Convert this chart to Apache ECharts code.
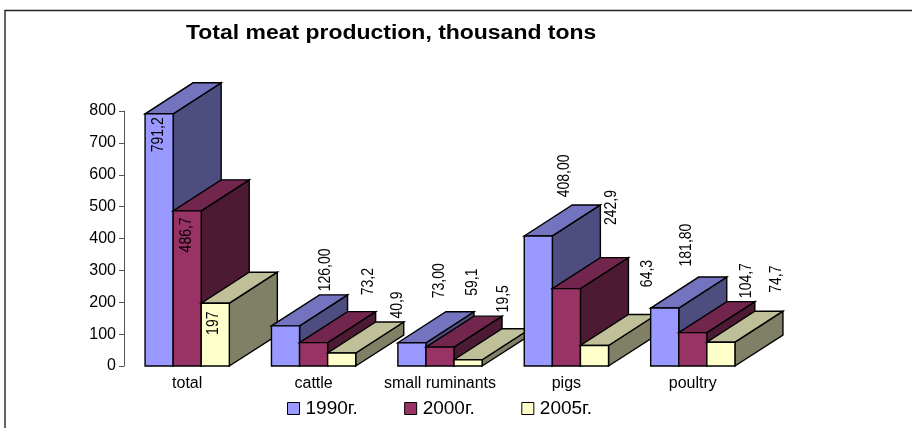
<!DOCTYPE html>
<html>
<head>
<meta charset="utf-8">
<title>Total meat production</title>
<style>html,body{margin:0;padding:0;background:#fff}#chart{width:912px;height:428px}</style>
<script src="https://cdn.jsdelivr.net/npm/echarts@6/dist/echarts.min.js"></script>
</head>
<body>
<div id="chart"></div>
<script>
// Meat production by type, thousand tons
const categories = ['total', 'cattle', 'small ruminants', 'pigs', 'poultry'];
const yearNames = ['1990г.', '2000г.', '2005г.'];
const values1990 = [791.2, 126.0, 73.0, 408.0, 181.8];
const values2000 = [486.7, 73.2, 59.1, 242.9, 104.7];
const values2005 = [197, 40.9, 19.5, 64.3, 74.7];
const labels1990 = ['791,2', '126,00', '73,00', '408,00', '181,80'];
const labels2000 = ['486,7', '73,2', '59,1', '242,9', '104,7'];
const labels2005 = ['197', '40,9', '19,5', '64,3', '74,7'];

// Hand-placed data labels: shift from the middle of a bar's top front edge
const shifts1990 = [[-0.6, 21], [40.6, -56], [28, -62], [26.5, -60], [22, -63]];
const shifts2000 = [[-0.6, 24], [55, -61], [33, -65], [45, -81], [54, -52]];
const shifts2005 = [[-1.3, 20], [56, -48], [36, -61], [53, -72], [56, -63]];

// Shades for each year: front, top and side faces of the block
const faces = [
  { front: '#9999FF', top: '#7373BF', side: '#4D4D80' },
  { front: '#993366', top: '#73264D', side: '#4D1A33' },
  { front: '#FFFFCC', top: '#BFBF99', side: '#808066' }
];
const depthX = 48, depthY = 31;
const font = 'Liberation Sans, Arial, sans-serif';

function blockSeries(name, yearIndex, values, labels, shifts) {
  return {
    name,
    type: 'custom',
    silent: true,
    itemStyle: { color: faces[yearIndex].front },
    data: values.map((v, i) => [i, v]),
    encode: { x: 0, y: 1 },
    renderItem(params, api) {
      const cat = api.value(0);
      const base = api.coord([cat, 0]);
      const top = api.coord([cat, api.value(1)]);
      const w = api.size([1, 0])[0] / 4.5;
      const x0 = base[0] - 1.5 * w + yearIndex * w;
      const x1 = x0 + w;
      const yt = top[1], yb = base[1];
      const order = cat * 10 + yearIndex;
      const edge = { stroke: '#000', lineWidth: 1.4, lineJoin: 'miter' };
      const face = (points, fill) => ({
        type: 'polygon', z2: order, shape: { points },
        style: Object.assign({ fill }, edge)
      });
      const shift = shifts[params.dataIndex];
      return {
        type: 'group',
        children: [
          face([[x1, yb], [x1 + depthX, yb - depthY], [x1 + depthX, yt - depthY], [x1, yt]], faces[yearIndex].side),
          face([[x0, yt], [x1, yt], [x1 + depthX, yt - depthY], [x0 + depthX, yt - depthY]], faces[yearIndex].top),
          face([[x0, yb], [x1, yb], [x1, yt], [x0, yt]], faces[yearIndex].front),
          {
            type: 'text', z2: 1000,
            x: (x0 + x1) / 2 + shift[0], y: yt + shift[1],
            rotation: Math.PI / 2,
            scaleY: 1.12,
            style: {
              text: labels[params.dataIndex], fill: '#000',
              font: '14px ' + font, align: 'center', verticalAlign: 'middle'
            }
          }
        ]
      };
    }
  };
}

const chart = echarts.init(document.getElementById('chart'), null, { renderer: 'canvas' });
chart.setOption({
  animation: false,
  backgroundColor: '#fff',
  grid: { left: 124, top: 111, width: 632, height: 255 },
  legend: {
    left: 287, top: 399, padding: 0,
    itemWidth: 12, itemHeight: 12, itemGap: 46.5,
    icon: 'rect',
    itemStyle: { borderColor: '#000', borderWidth: 1 },
    textStyle: { fontFamily: font, fontSize: 19, color: '#000', padding: [0, 0, 0, 1] },
    data: yearNames
  },
  xAxis: {
    type: 'category',
    data: categories,
    axisLine: { show: false },
    axisTick: { show: false },
    axisLabel: { fontFamily: font, fontSize: 16, color: '#000', margin: 10, interval: 0 }
  },
  yAxis: {
    type: 'value',
    min: 0, max: 800, interval: 100,
    splitLine: { show: false },
    axisLine: { show: true, lineStyle: { color: '#555', width: 1 } },
    axisTick: { show: true, length: 5, lineStyle: { color: '#555', width: 1 } },
    axisLabel: { fontFamily: font, fontSize: 16, color: '#000', margin: 8 }
  },
  series: [
    blockSeries(yearNames[0], 0, values1990, labels1990, shifts1990),
    blockSeries(yearNames[1], 1, values2000, labels2000, shifts2000),
    blockSeries(yearNames[2], 2, values2005, labels2005, shifts2005)
  ],
  graphic: [{
    type: 'polyline',
    silent: true,
    shape: { points: [[5, 429], [5, 10.5], [913, 10.5]] },
    style: { fill: 'none', stroke: '#222', lineWidth: 1.4 }
  }, {
    type: 'text',
    silent: true,
    x: 186, y: 33,
    scaleX: 1.148,
    style: {
      text: 'Total meat production, thousand tons',
      fill: '#000',
      font: 'bold 20px ' + font,
      align: 'left', verticalAlign: 'middle'
    }
  }]
});
</script>
</body>
</html>
